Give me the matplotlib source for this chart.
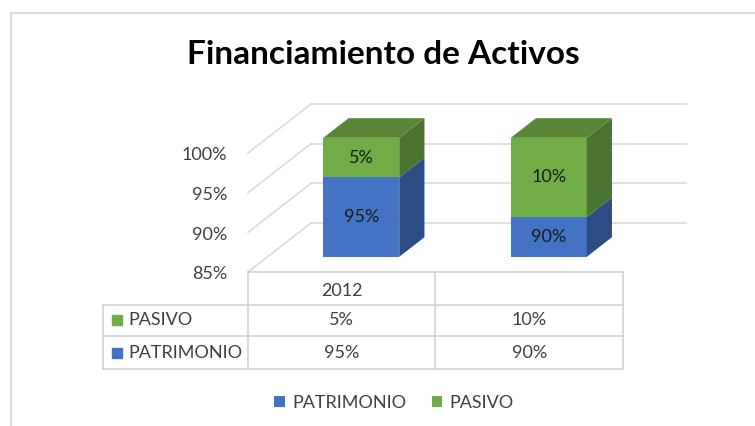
import matplotlib
matplotlib.use("Agg")
import matplotlib.pyplot as plt
from matplotlib.patches import Polygon, Patch
from matplotlib.lines import Line2D
import matplotlib.transforms as mtransforms

# ---------------- data ----------------
categories = ["2012", ""]
series_names = ["PATRIMONIO", "PASIVO"]
patrimonio = [95, 90]
pasivo = [5, 10]
y_ticks = [85, 90, 95, 100]
tick_labels = ["85%", "90%", "95%", "100%"]
title = "Financiamiento de Activos"

plt.rcParams["font.family"] = ["Lato", "DejaVu Sans"]

W, H = 755, 426
fig = plt.figure(figsize=(W / 100, H / 100), dpi=100)
ax = fig.add_axes([248 / W, (H - 272) / H, 375 / W, 119 / H])
ax.set_xlim(-0.5, len(categories) - 0.5)
ax.set_ylim(y_ticks[0], y_ticks[-1])
ax.axis("off")

FS = 13

# colours
front_c = {"PATRIMONIO": "#4472C4", "PASIVO": "#70AD47"}
side_c = {"PATRIMONIO": "#2C4C84", "PASIVO": "#4B7331"}
top_c = {"PATRIMONIO": "#3A62A8", "PASIVO": "#588536"}
grid_c = "#D9D9D9"
table_c = "#D0D0D0"
text_c = "#404040"

# oblique depth projection (data units per full depth)
px_per_cat = 375 / 2
px_per_pct = 119 / 15
DX = 63 / px_per_cat
DY = 49 / px_per_pct
d0, d1 = 0.31, 0.71
bw = 0.405

# ---------------- walls / gridlines ----------------
xl = -0.5
xr = len(categories) - 0.5
for v, lab in zip(y_ticks, tick_labels):
    ax.plot([xl, xl + DX], [v, v + DY], color=grid_c, lw=1.1, clip_on=False, zorder=1)
    ax.plot([xl + DX, xr + DX], [v + DY, v + DY], color=grid_c, lw=1.1, clip_on=False, zorder=1)
    ax.text(xl - 0.112, v - 0.3, lab, ha="right", va="center",
            fontsize=FS, color=text_c)

# ---------------- bars ----------------
base = y_ticks[0]
for i, cat in enumerate(categories):
    segs = []
    cum = 0
    for name, vals in zip(series_names, [patrimonio, pasivo]):
        lo, hi = cum, cum + vals[i]
        cum = hi
        segs.append((name, max(lo, base), hi, vals[i]))
    for k, (name, lo, hi, val) in enumerate(segs):
        if hi <= base:
            continue
        x0 = i - bw / 2 + d0 * DX
        x1 = i + bw / 2 + d0 * DX
        y0 = lo + d0 * DY
        y1 = hi + d0 * DY
        sdx = (d1 - d0) * DX
        sdy = (d1 - d0) * DY
        ax.add_patch(Polygon([(x0, y0), (x1, y0), (x1, y1), (x0, y1)], closed=True,
                             facecolor=front_c[name], edgecolor="none", clip_on=False, zorder=3))
        ax.add_patch(Polygon([(x1, y0), (x1 + sdx, y0 + sdy), (x1 + sdx, y1 + sdy), (x1, y1)],
                             closed=True, facecolor=side_c[name], edgecolor="none",
                             clip_on=False, zorder=3))
        if k == len(segs) - 1:
            ax.add_patch(Polygon([(x0, y1), (x1, y1), (x1 + sdx, y1 + sdy), (x0 + sdx, y1 + sdy)],
                                 closed=True, facecolor=top_c[name], edgecolor="none",
                                 clip_on=False, zorder=3))
        ax.text((x0 + x1) / 2, (y0 + y1) / 2, f"{val}%", ha="center", va="center",
                fontsize=FS, color="#1A1A1A", zorder=4)

# ---------------- data table ----------------
tr = mtransforms.blended_transform_factory(ax.transData, ax.transAxes)
row_y = [0, -0.277, -0.538, -0.815]
x_left = -1.275
lw_t = 1.1
ax.plot([xl, xr], [row_y[0]] * 2, color=table_c, lw=lw_t, transform=tr, clip_on=False)
for ry in row_y[1:]:
    ax.plot([x_left, xr], [ry, ry], color=table_c, lw=lw_t, transform=tr, clip_on=False)
ax.plot([x_left, x_left], [row_y[1], row_y[3]], color=table_c, lw=lw_t, transform=tr, clip_on=False)
for j in range(len(categories) + 1):
    xv = xl + j
    ax.plot([xv, xv], [row_y[0], row_y[3]], color=table_c, lw=lw_t, transform=tr, clip_on=False)

for i, cat in enumerate(categories):
    ax.text(i, (row_y[0] + row_y[1]) / 2 - 0.02, cat, ha="center", va="center",
            fontsize=FS, color=text_c, transform=tr)

table_rows = [("PASIVO", pasivo), ("PATRIMONIO", patrimonio)]
for r, (name, vals) in enumerate(table_rows):
    yc = (row_y[r + 1] + row_y[r + 2]) / 2
    ax.plot([-1.2], [yc], marker="s", markersize=7, color=front_c[name],
            transform=tr, clip_on=False, linestyle="none")
    ax.text(-1.14, yc, name, ha="left", va="center", fontsize=FS, color=text_c, transform=tr)
    for i, v in enumerate(vals):
        ax.text(i, yc, f"{v}%", ha="center", va="center", fontsize=FS, color=text_c, transform=tr)

# ---------------- legend ----------------
handles = [Patch(facecolor=front_c[n], edgecolor="none") for n in series_names]
fig.legend(handles, series_names, loc="center", bbox_to_anchor=(394 / W, (H - 403) / H),
           ncol=2, frameon=False, handlelength=0.6, handleheight=0.6,
           handletextpad=0.4, columnspacing=1.4, fontsize=FS, labelcolor=text_c)

# ---------------- title ----------------
fig.text(383 / W, (H - 55) / H, title, ha="center", va="center", fontsize=24,
         fontweight="bold", color="#000000")

# ---------------- chart border ----------------
fig.add_artist(Line2D([10.5 / W, 10.5 / W], [0, (H - 12.5) / H], color=grid_c, lw=1.3,
                      transform=fig.transFigure))
fig.add_artist(Line2D([10.5 / W, 1.0], [(H - 12.5) / H, (H - 12.5) / H], color=grid_c, lw=1.3,
                      transform=fig.transFigure))

fig.savefig("out.png", dpi=100)
